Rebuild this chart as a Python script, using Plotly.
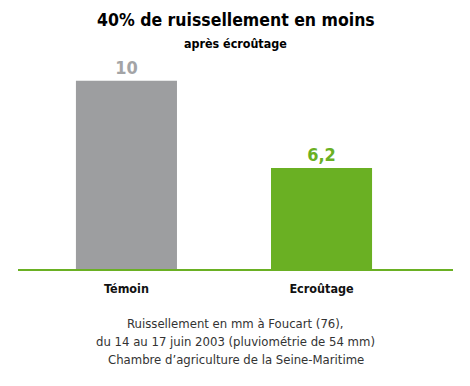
import plotly.graph_objects as go

categories = ["Témoin", "Ecroûtage"]
values = [10, 6.2]
value_labels = ["10", "6,2"]
bar_colors = ["#9d9ea0", "#6ab023"]
label_colors = ["#a3a4a6", "#6ab023"]
title = "40% de ruissellement en moins"
subtitle = "après écroûtage"
footer = ["Ruissellement en mm à Foucart (76),",
          "du 14 au 17 juin 2003 (pluviométrie de 54 mm)",
          "Chambre d’agriculture de la Seine-Maritime"]

FONT = "DejaVu Sans Condensed, DejaVu Sans, sans-serif"
T, B = 60, 270  # plot area top/bottom in px


def py(p):
    return (B - p) / (B - T)


fig = go.Figure()
fig.add_trace(go.Bar(
    x=[0, 1], y=values, width=0.518,
    marker=dict(color=bar_colors, line=dict(width=0)),
    text=[f"<b>{t}</b>" for t in value_labels],
    textposition="outside",
    textfont=dict(family=FONT, size=18, color=label_colors),
    cliponaxis=False,
    hoverinfo="skip",
))

fig.update_layout(
    width=470, height=386,
    margin=dict(l=18, r=17, t=T, b=386 - B),
    paper_bgcolor="white", plot_bgcolor="white",
    showlegend=False,
    font=dict(family=FONT, color="#000"),
    xaxis=dict(range=[-0.556, 1.674], tickvals=[0, 1],
               ticktext=[f"<b>{c}</b>" for c in categories],
               tickfont=dict(family=FONT, size=12.5, color="#111"),
               showgrid=False, zeroline=False, showline=False, ticks="",
               ticklabelstandoff=9),
    yaxis=dict(range=[1.745, 10.91], visible=False),
)

fig.add_shape(type="line", xref="paper", yref="paper", x0=0, x1=1, y0=0, y1=0,
              line=dict(color="#6ab023", width=2))

fig.add_annotation(text=f"<b>{title}</b>", xref="paper", yref="paper",
                   x=0.5, xanchor="center", y=py(20), yanchor="middle",
                   showarrow=False, font=dict(family=FONT, size=17.5, color="#000"))
fig.add_annotation(text=f"<b>{subtitle}</b>", xref="paper", yref="paper",
                   x=0.5, xanchor="center", y=py(43), yanchor="middle",
                   showarrow=False, font=dict(family=FONT, size=12.4, color="#000"))
for i, line in enumerate(footer):
    fig.add_annotation(text=line, xref="paper", yref="paper",
                       x=0.5, xanchor="center", y=py(323 + 18 * i), yanchor="middle",
                       showarrow=False, font=dict(family=FONT, size=13, color="#333"))

fig.write_html("out.html", config={"displayModeBar": False},
               post_script="document.body.style.margin='0';document.body.style.padding='0';")
